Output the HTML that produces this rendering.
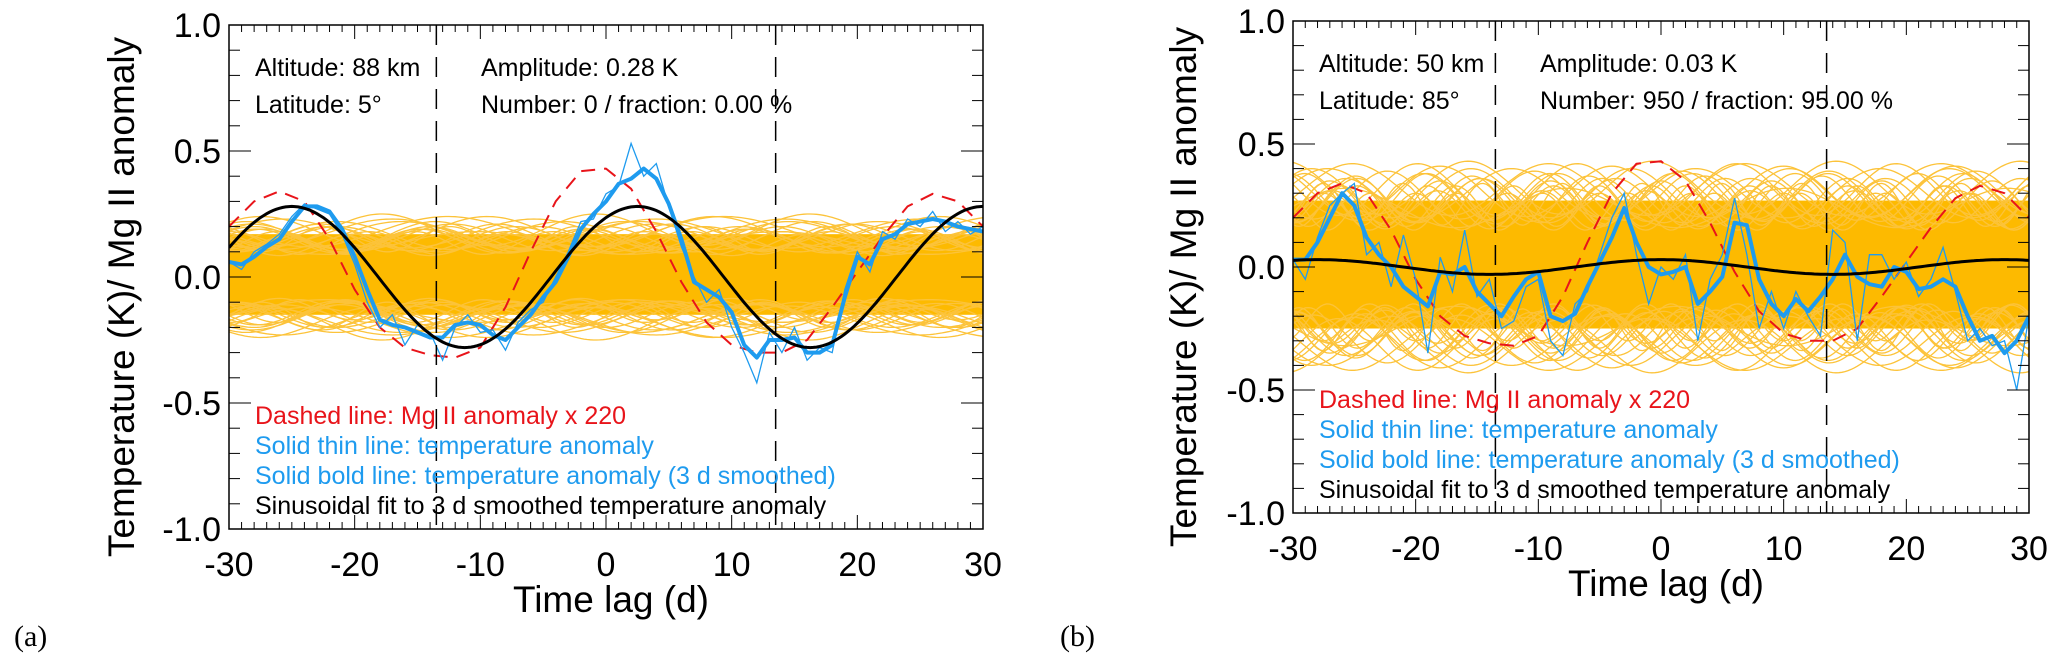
<!DOCTYPE html>
<html><head><meta charset="utf-8"><style>
html,body{margin:0;padding:0;background:#fff;}
svg{display:block;font-family:"Liberation Sans",Arial,sans-serif;}
</style></head><body>
<svg id="fig" width="2067" height="669" viewBox="0 0 2067 669"></svg>
<script>
// ---- shared data ----
const days = [];
for (let d = -30; d <= 30; d++) days.push(d);
const redDays = [-30,-28,-26,-24,-22,-20,-18,-16,-14,-12,-10,-8,-6,-4,-2,0,2,4,6,8,10,12,14,16,18,20,22,24,26,28,30];
const redVals = [0.2,0.3,0.34,0.3,0.15,-0.05,-0.2,-0.28,-0.31,-0.32,-0.28,-0.12,0.1,0.3,0.42,0.43,0.35,0.18,-0.02,-0.18,-0.27,-0.3,-0.3,-0.25,-0.12,0.02,0.16,0.28,0.33,0.3,0.2];
const xTicks = [-30,-20,-10,0,10,20,30];
const yTicks = [-1.0,-0.5,0.0,0.5,1.0];
const yTickLabels = ["-1.0","-0.5","0.0","0.5","1.0"];
const vDashes = [-13.5, 13.5];

// panel a
const boldA = [0.06,0.05,0.08,0.12,0.15,0.22,0.28,0.28,0.26,0.19,0.08,-0.05,-0.17,-0.19,-0.2,-0.22,-0.24,-0.24,-0.19,-0.18,-0.19,-0.23,-0.25,-0.2,-0.15,-0.08,-0.02,0.08,0.19,0.25,0.3,0.37,0.39,0.43,0.39,0.29,0.15,-0.02,-0.05,-0.08,-0.14,-0.27,-0.32,-0.25,-0.25,-0.24,-0.3,-0.3,-0.27,-0.08,0.08,0.05,0.15,0.17,0.21,0.22,0.23,0.22,0.2,0.19,0.18];
const thinA = [0.06,0.03,0.1,0.13,0.17,0.24,0.29,0.27,0.25,0.17,0.05,-0.1,-0.2,-0.15,-0.27,-0.19,-0.22,-0.33,-0.2,-0.15,-0.22,-0.21,-0.29,-0.18,-0.13,-0.1,0.0,0.1,0.22,0.23,0.33,0.36,0.53,0.4,0.45,0.28,0.12,0.0,-0.1,-0.05,-0.2,-0.3,-0.42,-0.22,-0.3,-0.2,-0.33,-0.28,-0.3,-0.05,0.1,0.02,0.18,0.15,0.23,0.2,0.26,0.18,0.22,0.17,0.2];
const fitA = {amp:0.28, period:27.5, peak:2.5};
// panel b
const boldB = [0.03,0.03,0.1,0.2,0.3,0.25,0.12,0.05,0.0,-0.08,-0.12,-0.16,-0.02,-0.03,0.0,-0.1,-0.15,-0.2,-0.12,-0.05,-0.02,-0.2,-0.22,-0.19,-0.08,0.02,0.12,0.24,0.1,0.0,-0.03,-0.02,0.0,-0.15,-0.1,-0.04,0.18,0.17,-0.05,-0.15,-0.2,-0.13,-0.18,-0.12,-0.05,0.05,-0.04,-0.07,-0.08,0.0,-0.02,-0.09,-0.08,-0.05,-0.08,-0.2,-0.3,-0.28,-0.35,-0.3,-0.2];
const thinB = [0.03,-0.05,0.12,0.25,0.3,0.34,0.05,0.1,-0.08,0.13,-0.05,-0.35,0.04,-0.1,0.15,-0.12,-0.05,-0.25,-0.22,-0.08,-0.05,-0.3,-0.36,-0.15,-0.1,0.05,0.2,0.3,0.05,-0.15,0.0,-0.05,0.05,-0.3,-0.05,0.05,0.28,0.05,-0.25,-0.1,-0.25,-0.1,-0.2,-0.28,0.15,0.1,-0.3,0.05,0.05,-0.05,0.02,-0.12,-0.05,0.08,-0.1,-0.3,-0.25,-0.32,-0.3,-0.5,-0.2];
const fitB = {amp:0.03, period:28, peak:0};
// orange ensemble parameters (amplitude, period, phase) per panel
const ensAmpA = [0.2,0.22,0.18,0.24,0.21,0.19,0.23,0.2,0.17,0.22,0.25,0.2,0.18,0.21,0.23,0.19,0.2,0.24,0.18,0.22];
const ensPerA = [14,18,11,22,16,13,20,15,12,19,17,10,24,14,21,13,16,18,11,15];
const ensPhA  = [0,1.2,2.4,3.6,4.8,0.6,1.8,3.0,4.2,5.4,0.3,1.5,2.7,3.9,5.1,0.9,2.1,3.3,4.5,5.7];
const ensAmpB = [0.35,0.4,0.3,0.42,0.38,0.33,0.41,0.36,0.3,0.39,0.43,0.34,0.32,0.37,0.4,0.31,0.36,0.42,0.33,0.38];
const ensPerB = [9,13,7,16,11,8,14,10,7.5,12,15,6.5,18,9.5,15,8.5,11,13,7,10];
const ensPhB  = ensPhA;
const coreA = [-0.15,0.17];
const coreB = [-0.25,0.27];

const NS = "http://www.w3.org/2000/svg";
const svg = document.getElementById('fig');
function mk(tag, attrs, parent) {
  const e = document.createElementNS(NS, tag);
  for (const k in attrs) e.setAttribute(k, attrs[k]);
  (parent || svg).appendChild(e);
  return e;
}

function panel(cfg) {
  const g = mk('g', {});
  
  
  const X = v => cfg.x0 + (v + 30) / 60 * (cfg.x1 - cfg.x0);
  const Y = v => cfg.y0 + (1 - v) / 2 * (cfg.y1 - cfg.y0);
  const clipId = cfg.name + '-clip';
  const cp = mk('clipPath', {id: clipId}, g);
  mk('rect', {x: cfg.x0, y: cfg.y0, width: cfg.x1 - cfg.x0, height: cfg.y1 - cfg.y0}, cp);
  const plot = mk('g', {'clip-path': 'url(#' + clipId + ')'}, g);
  
  

  const ens = mk('g', {}, plot);
  
  
  const core = mk('rect', {x: cfg.x0, y: Y(cfg.core[1]), width: cfg.x1 - cfg.x0, height: Y(cfg.core[0]) - Y(cfg.core[1]), fill: '#FDBA00'}, ens);
  
  
  for (let i = 0; i < cfg.ensAmp.length; i++) {
    for (const s of [1, -1]) {
      let d = '';
      for (let t = -30; t <= 30; t += 0.25) {
        const v = s * (cfg.ensAmp[i] * 0.75 + cfg.ensAmp[i] * 0.25 * Math.cos(2 * Math.PI * t / cfg.ensPer[i] + cfg.ensPh[i]));
        d += (d ? 'L' : 'M') + X(t).toFixed(1) + ',' + Y(v).toFixed(1);
      }
      const p = mk('path', {d: d, fill: 'none', stroke: '#FCC33A', 'stroke-width': 1.3}, ens);
      
      
    }
  }
  let d = '';
  redDays.forEach((t, i) => { d += (i ? 'L' : 'M') + X(t).toFixed(1) + ',' + Y(redVals[i]).toFixed(1); });
  const red = mk('path', {d: d, fill: 'none', stroke: '#E8141A', 'stroke-width': 2, 'stroke-dasharray': '14,9', 'stroke-linejoin': 'round'}, plot);
  
  
  d = '';
  days.forEach((t, i) => { d += (i ? 'L' : 'M') + X(t).toFixed(1) + ',' + Y(cfg.thin[i]).toFixed(1); });
  const thin = mk('path', {d: d, fill: 'none', stroke: '#1E9BEF', 'stroke-width': 1.3}, plot);
  
  
  d = '';
  days.forEach((t, i) => { d += (i ? 'L' : 'M') + X(t).toFixed(1) + ',' + Y(cfg.bold[i]).toFixed(1); });
  const bold = mk('path', {d: d, fill: 'none', stroke: '#1E9BEF', 'stroke-width': 4, 'stroke-linejoin': 'round'}, plot);
  
  
  d = '';
  for (let t = -30; t <= 30; t += 0.25) {
    const v = cfg.fit.amp * Math.cos(2 * Math.PI * (t - cfg.fit.peak) / cfg.fit.period);
    d += (d ? 'L' : 'M') + X(t).toFixed(1) + ',' + Y(v).toFixed(1);
  }
  const fit = mk('path', {d: d, fill: 'none', stroke: '#000', 'stroke-width': 3}, plot);
  
  
  vDashes.forEach(v => {
    const l = mk('line', {x1: X(v), x2: X(v), y1: cfg.y0, y2: cfg.y1, stroke: '#000', 'stroke-width': 1.5, 'stroke-dasharray': '20,12'}, g);
    
    
  });
  const fr = mk('rect', {x: cfg.x0, y: cfg.y0, width: cfg.x1 - cfg.x0, height: cfg.y1 - cfg.y0, fill: 'none', stroke: '#000', 'stroke-width': 1.5}, g);
  
  
  for (let t = -30; t <= 30; t++) {
    const len = (t % 10 === 0) ? 14 : 7;
    mk('line', {x1: X(t), x2: X(t), y1: cfg.y1, y2: cfg.y1 - len, stroke: '#000', 'stroke-width': 1}, g);
    mk('line', {x1: X(t), x2: X(t), y1: cfg.y0, y2: cfg.y0 + len, stroke: '#000', 'stroke-width': 1}, g);
  }
  for (let k = -10; k <= 10; k++) {
    const v = k / 10;
    const len = (k % 5 === 0) ? 22 : 11;
    mk('line', {x1: cfg.x0, x2: cfg.x0 + len, y1: Y(v), y2: Y(v), stroke: '#000', 'stroke-width': 1}, g);
    mk('line', {x1: cfg.x1, x2: cfg.x1 - len, y1: Y(v), y2: Y(v), stroke: '#000', 'stroke-width': 1}, g);
  }
  xTicks.forEach(t => {
    const tx = mk('text', {x: X(t), y: cfg.y1 + 47, 'font-size': 34, 'text-anchor': 'middle'}, g);
    tx.textContent = t;
    
    
  });
  yTicks.forEach((v, i) => {
    const tx = mk('text', {x: cfg.x0 - 8, y: Y(v) + 12, 'font-size': 34, 'text-anchor': 'end'}, g);
    tx.textContent = yTickLabels[i];
    
    
  });
  const xt = mk('text', {x: (cfg.x0 + cfg.x1) / 2 + 5, y: cfg.y1 + 83, 'font-size': 37, 'text-anchor': 'middle'}, g);
  xt.textContent = 'Time lag (d)';
  
  
  const yc = (cfg.y0 + cfg.y1) / 2 + 20;
  const yt = mk('text', {x: cfg.ytx, y: yc, 'font-size': 37, 'text-anchor': 'middle', transform: 'rotate(-90 ' + cfg.ytx + ' ' + yc + ')'}, g);
  yt.textContent = 'Temperature (K)/ Mg II anomaly';
  
  
  const ann = [
    [cfg.x0 + 26, cfg.y0 + 51, 'Altitude: ' + cfg.alt, '#000', 'altitude-label'],
    [cfg.x0 + 26, cfg.y0 + 88, 'Latitude: ' + cfg.lat, '#000', 'latitude-label'],
    [cfg.x0 + cfg.annX, cfg.y0 + 51, 'Amplitude: ' + cfg.amp, '#000', 'amplitude-label'],
    [cfg.x0 + cfg.annX, cfg.y0 + 88, cfg.num, '#000', 'number-label'],
    [cfg.x0 + 26, cfg.y1 - 105, 'Dashed line: Mg II anomaly x 220', '#E8141A', 'legend-dashed'],
    [cfg.x0 + 26, cfg.y1 - 75, 'Solid thin line: temperature anomaly', '#1E9BEF', 'legend-thin'],
    [cfg.x0 + 26, cfg.y1 - 45, 'Solid bold line: temperature anomaly (3 d smoothed)', '#1E9BEF', 'legend-bold'],
    [cfg.x0 + 26, cfg.y1 - 15, 'Sinusoidal fit to 3 d smoothed temperature anomaly', '#000', 'legend-fit']
  ];
  ann.forEach(a => {
    const tx = mk('text', {x: a[0], y: a[1], 'font-size': 25, fill: a[3]}, g);
    tx.textContent = a[2];
    
    
  });
  const pl = mk('text', {x: cfg.plx, y: 646, 'font-size': 30, 'font-family': '"Liberation Serif", serif'}, svg);
  pl.textContent = cfg.plabel;
  
  
}

panel({name: 'panel-a', x0: 229, x1: 983, y0: 25, y1: 529, ytx: 134, bold: boldA, thin: thinA, fit: fitA,
  ensAmp: ensAmpA, ensPer: ensPerA, ensPh: ensPhA, core: coreA, annX: 252,
  alt: '88 km', lat: '5°', amp: '0.28 K', num: 'Number: 0 / fraction: 0.00 %', plabel: '(a)', plx: 14});
panel({name: 'panel-b', x0: 1293, x1: 2029, y0: 21, y1: 513, ytx: 1196, bold: boldB, thin: thinB, fit: fitB,
  ensAmp: ensAmpB, ensPer: ensPerB, ensPh: ensPhB, core: coreB, annX: 247,
  alt: '50 km', lat: '85°', amp: '0.03 K', num: 'Number: 950 / fraction: 95.00 %', plabel: '(b)', plx: 1060});
</script>
</body></html>
